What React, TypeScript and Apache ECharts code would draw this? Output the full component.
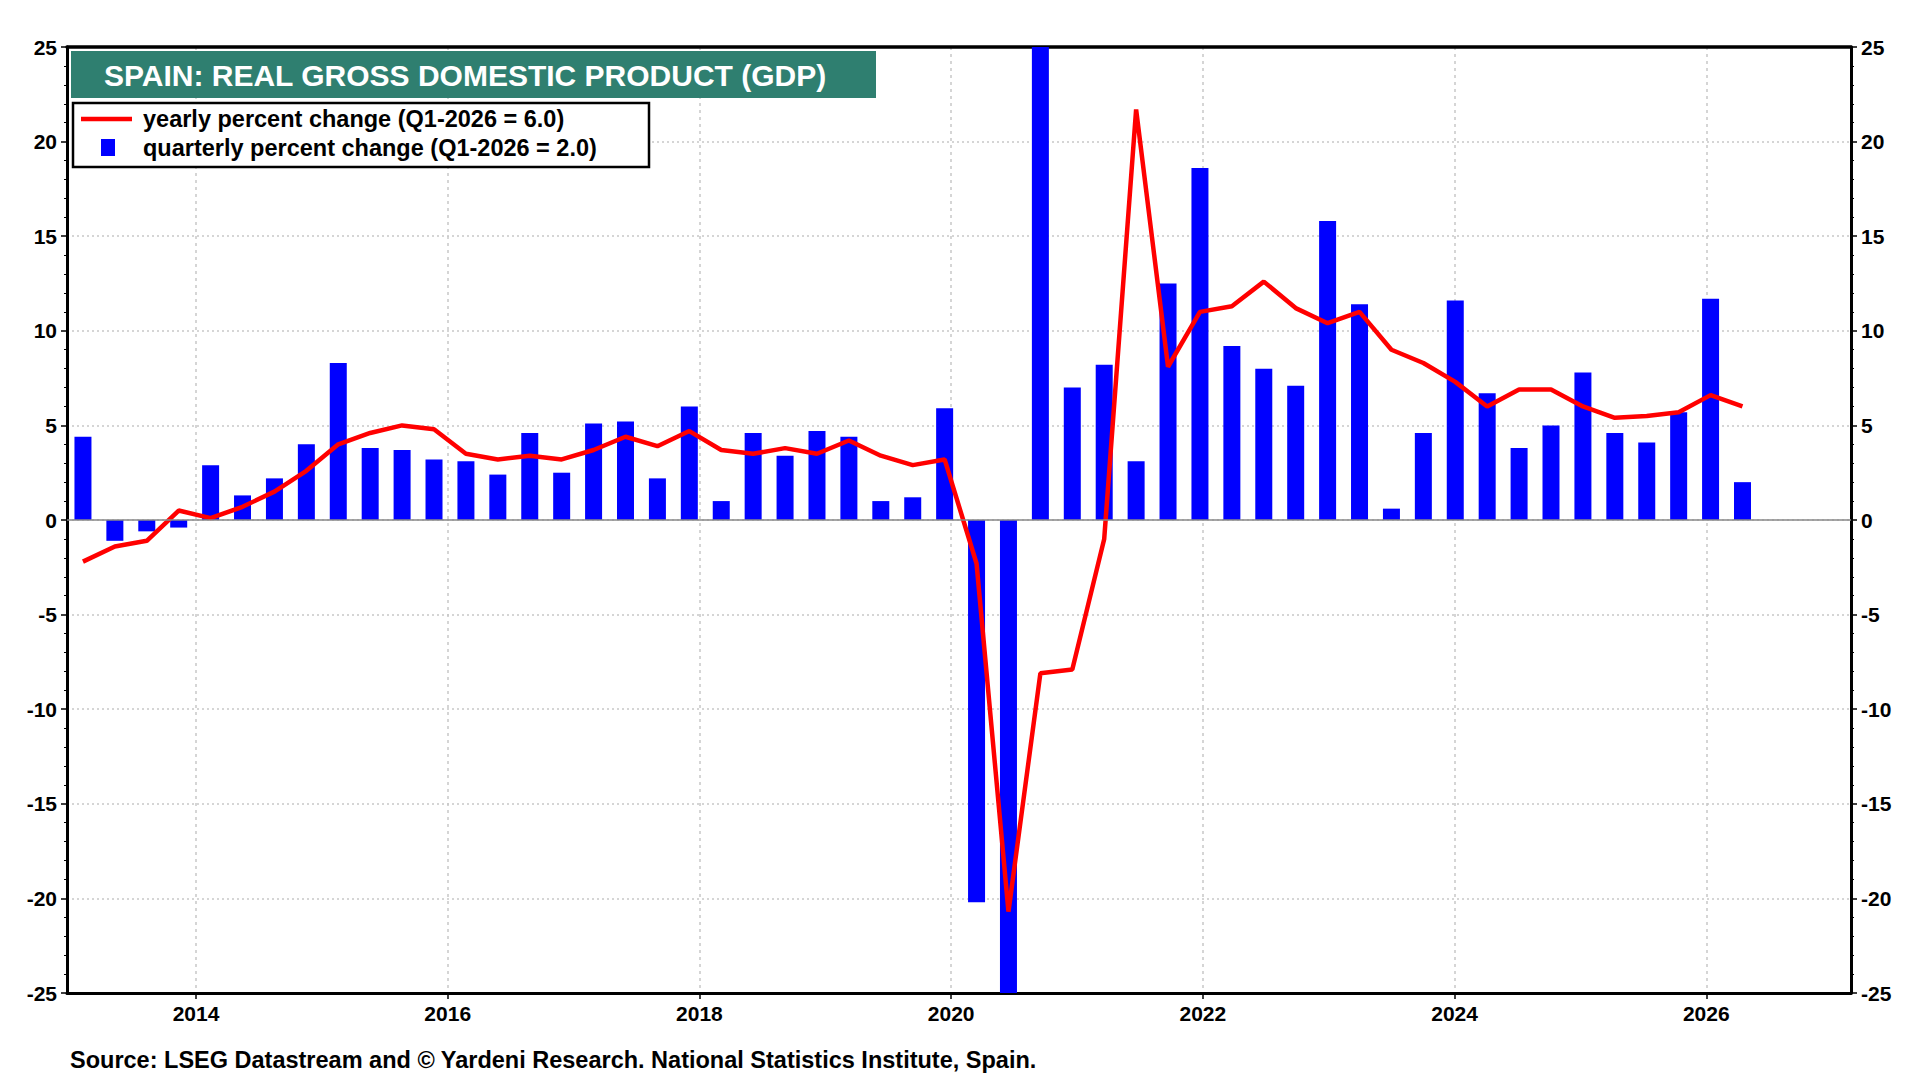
import React, { useEffect, useRef } from 'react';
import * as echarts from 'echarts';

const startYear = 2013;
// quarterly percent change, annualized (2013Q1 .. 2026Q1)
const quarterly = [
  4.4, -1.1, -0.6, -0.4,
  2.9, 1.3, 2.2, 4.0,
  8.3, 3.8, 3.7, 3.2,
  3.1, 2.4, 4.6, 2.5,
  5.1, 5.2, 2.2, 6.0,
  1.0, 4.6, 3.4, 4.7,
  4.4, 1.0, 1.2, 5.9,
  -20.2, -58.0, 70.0, 7.0,
  8.2, 3.1, 12.5, 18.6,
  9.2, 8.0, 7.1, 15.8,
  11.4, 0.6, 4.6, 11.6,
  6.7, 3.8, 5.0, 7.8,
  4.6, 4.1, 5.7, 11.7,
  2.0,
];
// yearly percent change
const yearly = [
  -2.2, -1.4, -1.1, 0.5,
  0.1, 0.7, 1.5, 2.6,
  4.0, 4.6, 5.0, 4.8,
  3.5, 3.2, 3.4, 3.2,
  3.7, 4.4, 3.9, 4.7,
  3.7, 3.5, 3.8, 3.5,
  4.2, 3.4, 2.9, 3.2,
  -2.3, -20.7, -8.1, -7.9,
  -1.0, 21.7, 8.1, 11.0,
  11.3, 12.6, 11.2, 10.4,
  11.0, 9.0, 8.3, 7.3,
  6.0, 6.9, 6.9, 6.0,
  5.4, 5.5, 5.7, 6.6,
  6.0,
];
const yearTicks = [2014, 2016, 2018, 2020, 2022, 2024, 2026];

const App: React.FC = () => {
  const chartRef = useRef<HTMLDivElement>(null);

  useEffect(() => {
    const chart = echarts.init(chartRef.current as HTMLDivElement, undefined, { renderer: 'svg' });
    const t = (i: number) => startYear + i / 4;
    const font = 'Liberation Sans';
    const yAxisCommon = {
      type: 'value',
      min: -25,
      max: 25,
      interval: 5,
      axisLine: { show: true, lineStyle: { color: '#000', width: 3 } },
      axisTick: { show: true, length: 6, lineStyle: { color: '#000', width: 1.5 } },
      minorTick: { show: true, splitNumber: 5, length: 3, lineStyle: { color: '#000' } },
      axisLabel: { color: '#000', fontFamily: font, fontWeight: 'bold', fontSize: 21, margin: 10 },
    };
    const option = {
      animation: false,
      backgroundColor: '#fff',
      grid: { left: 67, right: 69, top: 47, bottom: 87 },
      xAxis: [
        {
          type: 'value',
          min: 2012.975,
          max: 2027.15,
          position: 'bottom',
          axisLine: { show: true, onZero: false, lineStyle: { color: '#000', width: 3 } },
          axisTick: { show: true, customValues: yearTicks, length: 6, lineStyle: { color: '#000', width: 1.5 } },
          axisLabel: {
            customValues: yearTicks,
            formatter: (v: number) => String(v),
            color: '#000',
            fontFamily: font,
            fontWeight: 'bold',
            fontSize: 21,
            margin: 10,
          },
          splitLine: { show: true, lineStyle: { color: '#c8c8c8', type: [3, 4], width: 1.5 } },
        },
        {
          type: 'value',
          min: 2012.875,
          max: 2026.85,
          position: 'top',
          axisLine: { show: true, onZero: false, lineStyle: { color: '#000', width: 3.5 } },
          axisTick: { show: false },
          axisLabel: { show: false },
          splitLine: { show: false },
        },
      ],
      yAxis: [
        {
          ...yAxisCommon,
          position: 'left',
          splitLine: { show: true, lineStyle: { color: '#c8c8c8', type: [2, 3], width: 1.5 } },
        },
        { ...yAxisCommon, position: 'right', splitLine: { show: false } },
      ],
      series: [
        {
          type: 'bar',
          xAxisIndex: 1,
          yAxisIndex: 0,
          barWidth: 17,
          itemStyle: { color: '#0000ff' },
          data: quarterly.map((v, i) => [t(i), v]),
          markLine: {
            silent: true,
            symbol: 'none',
            label: { show: false },
            lineStyle: { color: '#888', type: 'solid', width: 1.5 },
            data: [{ yAxis: 0 }],
          },
          z: 2,
        },
        {
          type: 'line',
          xAxisIndex: 1,
          yAxisIndex: 0,
          showSymbol: false,
          lineStyle: { color: '#ff0000', width: 4.5 },
          data: yearly.map((v, i) => [t(i), v]),
          z: 3,
        },
      ],
      graphic: [
        { type: 'rect', shape: { x: 71, y: 51, width: 805, height: 47 }, style: { fill: '#2f7f70' }, z: 10 },
        {
          type: 'text', x: 104, y: 75, z: 11,
          style: { text: 'SPAIN: REAL GROSS DOMESTIC PRODUCT (GDP)', fill: '#fff', font: `bold 30px "${font}"`, verticalAlign: 'middle' },
        },
        {
          type: 'rect', shape: { x: 73, y: 103, width: 576, height: 64 },
          style: { fill: '#fff', stroke: '#000', lineWidth: 2.5 }, z: 10,
        },
        { type: 'line', shape: { x1: 81, y1: 119, x2: 132, y2: 119 }, style: { stroke: '#ff0000', lineWidth: 4.5 }, z: 11 },
        { type: 'rect', shape: { x: 101, y: 139, width: 14, height: 17 }, style: { fill: '#0000ff' }, z: 11 },
        {
          type: 'text', x: 143, y: 119, z: 11,
          style: { text: 'yearly percent change (Q1-2026 = 6.0)', fill: '#000', font: `bold 23.5px "${font}"`, verticalAlign: 'middle' },
        },
        {
          type: 'text', x: 143, y: 148, z: 11,
          style: { text: 'quarterly percent change (Q1-2026 = 2.0)', fill: '#000', font: `bold 23.5px "${font}"`, verticalAlign: 'middle' },
        },
        {
          type: 'text', x: 70, y: 1060, z: 11,
          style: { text: 'Source: LSEG Datastream and © Yardeni Research. National Statistics Institute, Spain.', fill: '#000', font: `bold 23.5px "${font}"`, verticalAlign: 'middle' },
        },
      ],
    };
    chart.setOption(option as any);
    return () => {
      chart.dispose();
    };
  }, []);

  return (
    <div
      ref={chartRef}
      style={{ position: 'fixed', left: 0, top: 0, width: '1920px', height: '1080px', background: '#fff' }}
    ></div>
  );
};

export default App;
